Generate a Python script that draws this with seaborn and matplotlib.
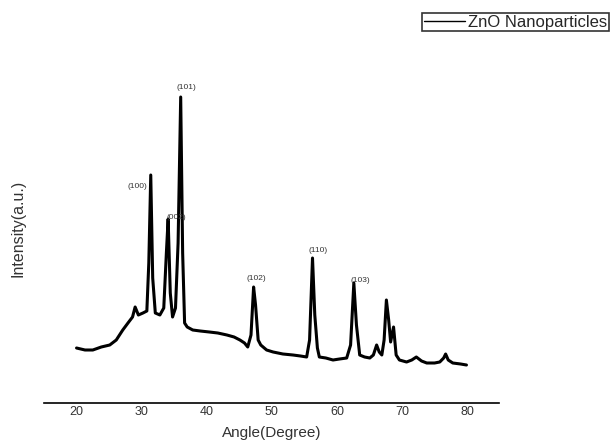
import matplotlib
matplotlib.use("Agg")
import matplotlib.pyplot as plt
import seaborn as sns
import pandas as pd

angle = [20.0, 21.3, 22.5, 23.8, 25.1, 26.1, 27.1, 27.9, 28.6, 29.0, 29.5, 30.2,
         30.8, 31.1, 31.4, 31.7, 32.1, 32.8, 33.4, 33.8, 34.07, 34.4, 34.75, 35.2,
         35.6, 36.0, 36.3, 36.6, 37.0, 37.85, 39.0, 40.4, 41.7, 43.1, 44.2, 45.1,
         45.8, 46.3, 46.8, 47.2, 47.5, 47.9, 48.3, 49.2, 50.2, 51.7, 53.25, 54.4,
         55.35, 55.8, 56.25, 56.6, 57.0, 57.3, 58.3, 59.4, 60.4, 61.5, 62.1, 62.6,
         63.0, 63.5, 64.25, 65.05, 65.6, 66.1, 66.5, 66.9, 67.25, 67.6, 67.95, 68.25,
         68.7, 69.1, 69.6, 70.7, 71.5, 72.2, 73.0, 73.8, 75.0, 75.8, 76.4, 76.7,
         77.1, 77.8, 79.0, 79.9]
intensity = [55, 53, 53, 56, 58, 63, 73, 80, 86, 96, 88, 90,
             92, 140, 228, 125, 90, 88, 95, 150, 184, 110, 86, 95,
             160, 306, 150, 80, 76, 73, 72, 71, 70, 68, 66, 63,
             60, 56, 68, 116, 98, 63, 58, 53, 51, 49, 48, 47,
             46, 63, 145, 88, 55, 46, 45, 43, 44, 45, 58, 120,
             78, 48, 46, 45, 48, 58, 51, 48, 63, 103, 83, 61,
             76, 48, 43, 41, 43, 46, 42, 40, 40, 41, 45, 49,
             43, 40, 39, 38]

peak_labels = ["(100)", "(002)", "(101)", "(102)", "(110)", "(103)"]
peak_label_x = [29.3, 35.25, 36.8, 47.55, 57.05, 63.65]
peak_label_y = [217, 186, 316, 124, 153, 123]

xticks = [20, 30, 40, 50, 60, 70, 80]
series_name = "ZnO Nanoparticles"

sns.set_theme(style="white")
plt.rcParams["font.family"] = ["Liberation Sans", "DejaVu Sans"]

fig = plt.figure(figsize=(6.14, 4.41), dpi=100)
ax = fig.add_axes([44/614, 1-403/441, (499-44)/614, (403-53)/441])

df = pd.DataFrame({"Angle": angle, "Intensity": intensity})
sns.lineplot(data=df, x="Angle", y="Intensity", ax=ax, color="black",
             linewidth=2.2, estimator=None, sort=False, label=series_name)

for t, x, y in zip(peak_labels, peak_label_x, peak_label_y):
    ax.text(x, y, t, fontsize=6, ha="center", va="center", color="#333333")

ax.set_xlim(15.0, 84.9)
ax.set_ylim(0, 350)
ax.set_xticks(xticks)
ax.set_yticks([])
ax.tick_params(axis="x", length=0, pad=2, labelsize=9, labelcolor="#333333")
for s in ["top", "right", "left"]:
    ax.spines[s].set_visible(False)
ax.spines["bottom"].set_color("black")
ax.spines["bottom"].set_linewidth(1.2)

ax.set_xlabel("Angle(Degree)", fontsize=11, color="#333333", labelpad=6)
ax.set_ylabel("Intensity(a.u.)", fontsize=11.5, color="#333333", labelpad=13)

leg = ax.legend(loc="upper left", bbox_to_anchor=(422/614, 1-13/441),
                bbox_transform=fig.transFigure, borderaxespad=0,
                fancybox=False, frameon=True, fontsize=12, handlelength=2.5,
                handletextpad=0.15, borderpad=0.1)
leg.get_frame().set_edgecolor("black")
leg.get_frame().set_linewidth(1.2)
for line in leg.get_lines():
    line.set_linewidth(1.0)

fig.savefig("out.png", dpi=100)
